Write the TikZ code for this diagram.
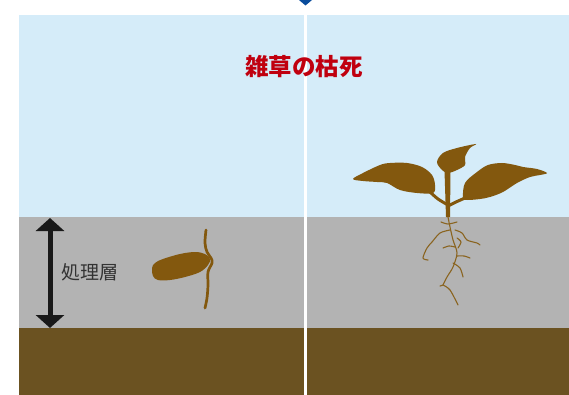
\documentclass[tikz,border=0pt]{standalone}
\usepackage{fontspec}
\newfontfamily\cjk{Noto Sans CJK JP}
\usetikzlibrary{arrows.meta}
\definecolor{sky}{HTML}{D5ECF9}
\definecolor{layer}{HTML}{B3B3B3}
\definecolor{soil}{HTML}{6B5221}
\definecolor{plant}{HTML}{83580E}
\definecolor{rootc}{HTML}{8A6420}
\definecolor{titlered}{HTML}{C0000F}
\definecolor{marker}{HTML}{0A4C9C}
\tikzset{
  band/.style={fill=#1, draw=none},
  leaf/.style={fill=plant, draw=none},
  root/.style={draw=rootc, line width=1.1pt, line cap=round, line join=round},
  title/.style={font=\cjk\bfseries\fontsize{23.5}{28}\selectfont, text=titlered},
  label/.style={font=\cjk\fontsize{19}{22}\selectfont, text=black!80},
  depth/.style={draw=black!90, line width=5pt,
    {Triangle[width=28pt,length=13pt]}-{Triangle[width=28pt,length=13pt]}, shorten <=-1pt, shorten >=-1pt}
}
\begin{document}
\begin{tikzpicture}[x=1pt,y=-1pt]
\useasboundingbox (0,0) rectangle (569,395);
\fill[white] (0,0) rectangle (569,395);

% ground bands
\fill[band=sky]   (19,15)  rectangle (569,217);
\fill[band=layer] (19,217) rectangle (569,328);
\fill[band=soil]  (19,328) rectangle (569,395);

% divider and pointer
\draw[white, line width=2.5pt] (305.5,15) -- (305.5,395);
\fill[marker] (299,0) -- (312,0) -- (305.5,5.5) -- cycle;

% title
\node[title] (title) at (304,67) {雑草の枯死};

% depth of treated layer
\coordinate (ltop) at (50,219);
\coordinate (lbot) at (50,327);
\draw[depth] (ltop) -- (lbot);
\node[label] (lname) at (90,272) {処理層};

% seed with sprout
\fill[leaf] plot[smooth cycle, tension=0.6] coordinates {
  (152,268) (155,263) (163,259) (180,254) (195,252) (205,254) (210,259)
  (208,265) (200,272) (185,277) (170,280) (158,280) (153,276)};
\draw[plant, line width=2.7pt, line cap=round] plot[smooth, tension=0.6] coordinates {
  (206,230) (205,243) (207,252) (211,258) (212,263) (208,272) (208,285) (207,298) (205,308)};

% grown weed: roots
\draw[root] plot[smooth] coordinates {(448,217) (450,227) (453,240) (457,253) (453,267) (447,277) (443,285)};
\draw[root] plot[smooth] coordinates {(443,285) (450,290) (458,305)};
\draw[root] (443,285) -- (440,286);
\draw[root] plot[smooth] coordinates {(450,230) (440,233) (432,242) (427,248) (423,258) (428,260)};
\draw[root] plot[smooth] coordinates {(455,230) (462,233) (467,240) (477,243) (480,245)};
\draw[root] plot[smooth] coordinates {(457,256) (464,256) (470,258)};
\draw[root] plot[smooth] coordinates {(453,263) (460,268) (463,277)};
\draw[root] plot[smooth] coordinates {(441,222) (448,224) (457,222)};
\draw[root] plot[smooth] coordinates {(455,247) (449,246) (443,248)};
\draw[root] plot[smooth] coordinates {(457,238) (461,242) (458,248)};

% grown weed: stem and petioles
\fill[leaf] (444.5,171) -- (450.5,171) -- (450,217) -- (446,217) -- cycle;
\draw[plant, line width=3pt, line cap=round] plot[smooth] coordinates {(430,192) (438,199) (448,205)};
\draw[plant, line width=3pt, line cap=round] plot[smooth] coordinates {(465,198) (456,202) (448,206)};

% grown weed: leaves
\fill[leaf] plot[smooth cycle, tension=0.55] coordinates {
  (353,179) (363,173) (380,165) (390,163) (407,163) (422,167) (432,175)
  (435,185) (433,193) (417,193) (400,190) (387,183) (377,182) (363,181)};
\fill[leaf] plot[smooth cycle, tension=0.55] coordinates {
  (437,162) (443,153) (457,148) (476,144) (470,148) (465,157) (465,165)
  (457,170) (448,173) (442,170)};
\fill[leaf] plot[smooth cycle, tension=0.55] coordinates {
  (463,198) (465,183) (477,172) (488,165) (502,163) (515,165) (523,167)
  (537,169) (547,173) (540,175) (530,177) (517,183) (503,192) (490,197)
  (480,199) (467,200)};
\end{tikzpicture}
\end{document}
